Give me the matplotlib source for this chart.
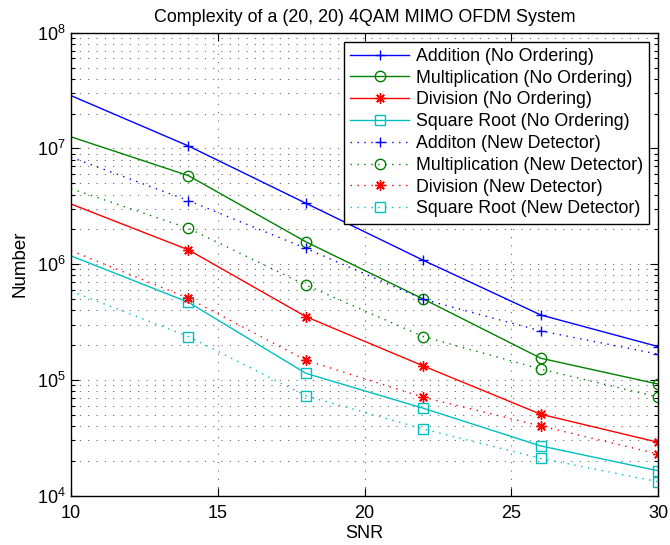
import matplotlib
matplotlib.use("Agg")
import matplotlib.pyplot as plt
import numpy as np

plt.rcParams['font.family'] = ['Liberation Sans', 'DejaVu Sans']
plt.rcParams['mathtext.fontset'] = 'custom'
plt.rcParams['mathtext.rm'] = 'Liberation Sans'

snr = [10, 14, 18, 22, 26, 30]

add_no = [2.86e7, 1.05e7, 3.36e6, 1.08e6, 3.64e5, 1.94e5]
mul_no = [1.26e7, 5.82e6, 1.56e6, 5.0e5, 1.54e5, 9.2e4]
div_no = [3.31e6, 1.33e6, 3.52e5, 1.32e5, 5.05e4, 2.89e4]
sqr_no = [1.18e6, 4.69e5, 1.14e5, 5.69e4, 2.69e4, 1.64e4]

add_nd = [8.4e6, 3.54e6, 1.37e6, 4.97e5, 2.65e5, 1.67e5]
mul_nd = [4.5e6, 2.04e6, 6.6e5, 2.37e5, 1.24e5, 7.1e4]
div_nd = [1.31e6, 5.07e5, 1.48e5, 7.08e4, 4.0e4, 2.29e4]
sqr_nd = [5.85e5, 2.37e5, 7.3e4, 3.77e4, 2.1e4, 1.32e4]

labels = ['Addition (No Ordering)', 'Multiplication (No Ordering)',
          'Division (No Ordering)', 'Square Root (No Ordering)',
          'Additon (New Detector)', 'Multiplication (New Detector)',
          'Division (New Detector)', 'Square Root (New Detector)']
title = 'Complexity of a (20, 20) 4QAM MIMO OFDM System'

colors = ['#0000ff', '#008000', '#ff0000', '#00bfbf']
asterisk = (8, 2, 0)
markers = ['+', 'o', asterisk, 's']

fig = plt.figure(figsize=(6.7, 5.45), dpi=100)
ax = fig.add_axes([0.106, 0.0905, 0.8765, 0.8495])

series_no = [add_no, mul_no, div_no, sqr_no]
series_nd = [add_nd, mul_nd, div_nd, sqr_nd]
handles = []
for i, ys in enumerate(series_no):
    h, = ax.plot(snr, ys, color=colors[i], lw=1.0, marker=markers[i],
                 markersize=7.5, markerfacecolor='none', markeredgecolor=colors[i],
                 markeredgewidth=1.0, markevery=slice(1, None), label=labels[i])
    handles.append(h)
for i, ys in enumerate(series_nd):
    h, = ax.plot(snr, ys, color=colors[i], lw=1.0, linestyle=(0, (1, 4)),
                 marker=markers[i], markersize=7.5, markerfacecolor='none',
                 markeredgecolor=colors[i], markeredgewidth=1.0,
                 markevery=slice(1, None), label=labels[4 + i])
    handles.append(h)

ax.set_yscale('log')
ax.set_xlim(10, 30)
ax.set_ylim(1e4, 1e8)
ax.set_xticks([10, 15, 20, 25, 30])
ax.tick_params(axis='both', which='both', direction='in', top=True, right=True,
               labelsize=13, width=0.8)
ax.tick_params(axis='both', which='major', length=6)
ax.tick_params(axis='x', which='major', pad=7)
ax.tick_params(axis='y', which='major', pad=4)
ax.tick_params(axis='y', which='minor', length=3)
ax.tick_params(axis='x', which='minor', bottom=False, top=False)
ax.grid(True, which='major', axis='both', color='0.35', linestyle=(0, (1, 7)), lw=0.75)
ax.grid(True, which='minor', axis='y', color='0.35', linestyle=(0, (1, 7)), lw=0.75)
for s in ax.spines.values():
    s.set_linewidth(1.0)

ax.set_xlabel('SNR', fontsize=13, labelpad=2)
ax.set_ylabel('Number', fontsize=13.5, labelpad=6)
ax.set_title(title, fontsize=12.9, pad=8)

leg = ax.legend(handles=handles, loc='upper right', fontsize=12.8, frameon=True,
                fancybox=False, edgecolor='black', framealpha=1, borderaxespad=0.5,
                handlelength=3.3, handletextpad=0.4, labelspacing=0.27,
                borderpad=0.35, markerscale=1.0)
leg.get_frame().set_linewidth(1.0)

fig.savefig('out.png', dpi=100)
